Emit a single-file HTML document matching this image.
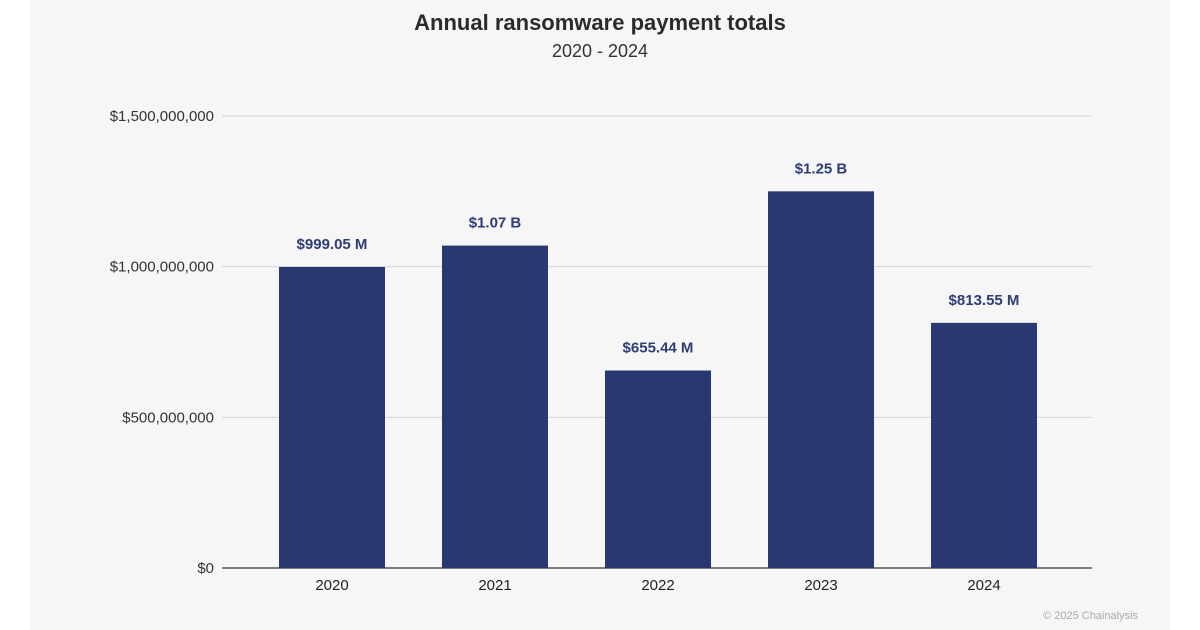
<!DOCTYPE html>
<html><head><meta charset="utf-8"><style>
body{margin:0;width:1200px;height:630px;background:#fff;overflow:hidden}
svg{display:block;font-family:"Liberation Sans",sans-serif}
</style></head><body>
<svg id="chart" width="1200" height="630">
<rect x="30" y="0" width="1140" height="630" fill="#f6f6f6"/>
<text x="600" y="30" text-anchor="middle" font-size="22" font-weight="bold" fill="#2b2b2b">Annual ransomware payment totals</text>
<text x="600" y="57" text-anchor="middle" font-size="18" fill="#333">2020 - 2024</text>
<text x="1138" y="619" text-anchor="end" font-size="11" fill="#aaa">© 2025 Chainalysis</text>
<g id="grid"></g><g id="bars"></g>
</svg>
<script>
const categories=["2020","2021","2022","2023","2024"];
const values=[999.05e6,1.07e9,655.44e6,1.25e9,813.55e6];
const valueLabels=["$999.05 M","$1.07 B","$655.44 M","$1.25 B","$813.55 M"];
const ticks=[0,5e8,1e9,1.5e9];
const tickLabels=["$0","$500,000,000","$1,000,000,000","$1,500,000,000"];
const NS="http://www.w3.org/2000/svg";
const x0=222,x1=1092,yBase=568,yTop=116,maxV=1.5e9;
const bandStart=250.5,bandEnd=1065.5;
const y=v=>yBase-(v/maxV)*(yBase-yTop);
const band=(bandEnd-bandStart)/categories.length,bw=106;
const g=document.getElementById('grid'),b=document.getElementById('bars');
function mk(t,a,p){const e=document.createElementNS(NS,t);for(const k in a)e.setAttribute(k,a[k]);p.appendChild(e);return e;}
ticks.forEach((t,i)=>{
 const l=mk('line',{x1:x0,x2:x1,y1:y(t),y2:y(t),stroke:t===0?'#555':'#d4d4d4','stroke-width':t===0?1.5:1},g);
 
 
 const tx=mk('text',{x:214,y:y(t)+5,'text-anchor':'end','font-size':15,fill:'#333'},g);
 tx.textContent=tickLabels[i];
 
 
});
categories.forEach((c,i)=>{
 const cx=bandStart+band*(i+0.5);
 const r=mk('rect',{x:cx-bw/2,y:y(values[i]),width:bw,height:yBase-y(values[i]),fill:'#283870'},b);
 
 
 const lb=mk('text',{x:cx,y:y(values[i])-18,'text-anchor':'middle','font-size':15,'font-weight':'bold',fill:'#2e3d73'},b);
 lb.textContent=valueLabels[i];
 
 
 const xl=mk('text',{x:cx,y:590,'text-anchor':'middle','font-size':15,fill:'#222'},b);
 xl.textContent=c;
 
 
});
</script>
</body></html>
